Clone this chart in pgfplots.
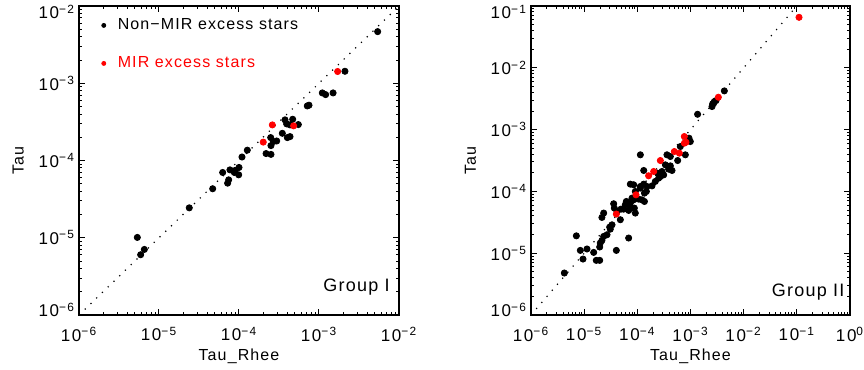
\documentclass[border=0pt]{standalone}
\usepackage{fontspec}
\setmainfont{Liberation Sans}[LetterSpace=7]
\newfontfamily\tickfont{Liberation Sans}[LetterSpace=10]
\usepackage{pgfplots}
\usepackage{pgfplotstable}
\pgfplotsset{compat=1.18}

\pgfplotstableread{
x y
5.41e-3 4.66e-3
2.11e-3 1.43e-3
1.10e-3 7.50e-4
1.21e-3 7.13e-4
1.50e-3 7.50e-4
7.14e-4 5.09e-4
7.50e-4 5.20e-4
3.76e-4 3.36e-4
4.69e-4 3.42e-4
5.52e-4 2.92e-4
3.94e-4 2.98e-4
4.34e-4 2.89e-4
4.34e-4 2.04e-4
4.02e-4 1.98e-4
3.48e-4 2.25e-4
2.49e-4 1.98e-4
2.96e-4 1.79e-4
2.69e-4 1.76e-4
2.51e-4 1.56e-4
2.18e-4 1.23e-4
2.51e-4 1.20e-4
1.27e-4 1.36e-4
1.09e-4 1.11e-4
6.25e-5 7.00e-5
7.71e-5 7.57e-5
8.75e-5 7.00e-5
9.91e-5 6.53e-5
1.00e-4 8.13e-5
8.91e-5 7.43e-5
7.43e-5 5.62e-5
7.21e-5 5.09e-5
4.69e-5 4.31e-5
2.39e-5 2.44e-5
5.36e-6 1.01e-5
6.56e-6 7.06e-6
5.90e-6 6.03e-6
}\leftblack

\pgfplotstableread{
x y
1.71e-3 1.42e-3
2.61e-4 2.89e-4
4.82e-4 2.81e-4
2.01e-4 1.73e-4
}\leftred

\pgfplotstableread{
x y
4.33e-3 4.23e-3
2.81e-3 2.84e-3
3.02e-3 2.95e-3
2.61e-3 2.61e-3
2.54e-3 2.36e-3
2.73e-3 2.67e-3
1.36e-3 1.77e-3
9.38e-4 7.26e-4
9.93e-4 6.41e-4
6.44e-4 5.32e-4
8.00e-4 3.91e-4
3.61e-4 3.91e-4
4.18e-4 3.67e-4
1.14e-4 3.91e-4
5.74e-4 3.16e-4
3.37e-4 2.69e-4
4.18e-4 2.59e-4
3.88e-4 2.29e-4
4.49e-4 2.18e-4
1.32e-4 2.18e-4
2.18e-4 1.45e-4
2.52e-4 1.64e-4
2.41e-4 1.97e-4
2.91e-4 2.10e-4
2.71e-4 1.74e-4
3.13e-4 1.85e-4
7.38e-5 1.31e-4
8.53e-5 1.28e-4
1.32e-4 1.31e-4
1.14e-4 1.20e-4
1.52e-4 1.20e-4
1.89e-4 1.23e-4
1.14e-4 1.13e-4
1.36e-4 9.38e-5
1.22e-4 7.31e-5
8.53e-5 7.31e-5
7.38e-5 6.46e-5
9.16e-5 9.98e-5
1.48e-4 9.98e-5
7.94e-5 7.78e-5
1.06e-4 7.50e-5
6.21e-5 6.87e-5
1.36e-4 6.87e-5
3.59e-5 6.31e-5
3.69e-5 5.37e-5
5.94e-5 6.07e-5
5.53e-5 5.16e-5
6.87e-5 4.92e-5
9.16e-5 4.46e-5
7.38e-5 5.70e-5
8.79e-5 5.37e-5
4.93e-5 5.16e-5
4.15e-5 4.74e-5
2.33e-5 4.46e-5
2.16e-5 3.79e-5
4.79e-5 3.48e-5
3.34e-5 2.88e-5
3.02e-5 2.64e-5
3.10e-5 2.45e-5
2.69e-5 1.99e-5
2.33e-5 1.87e-5
2.16e-5 1.61e-5
2.01e-5 1.46e-5
1.96e-5 1.26e-5
7.13e-6 1.91e-5
6.87e-5 1.76e-5
8.47e-6 1.11e-5
1.13e-5 1.17e-5
1.51e-5 1.03e-5
9.51e-6 8.04e-6
1.69e-5 7.66e-6
1.96e-5 7.66e-6
4.03e-5 1.11e-5
4.24e-6 4.78e-6
}\rightblack

\pgfplotstableread{
x y
1.10e-1 6.56e-2
3.34e-3 3.34e-3
7.66e-4 7.73e-4
8.22e-4 6.25e-4
7.66e-4 6.03e-4
4.97e-4 4.42e-4
6.17e-4 4.16e-4
2.71e-4 3.16e-4
2.03e-4 2.10e-4
1.63e-4 1.79e-4
9.44e-5 8.81e-5
4.03e-5 4.30e-5
}\rightred

\pgfplotsset{
  scale only axis, height=154.5pt,
  axis line style={line width=0.6pt},
  major tick length=3pt, minor tick length=1.6pt,
  tick style={line width=0.5pt, black},
  tick pos=both, tick align=inside,
  ticklabel style={font=\tickfont\fontsize{8.5}{10}\selectfont},
  xticklabel style={yshift=-2.5pt},
  yticklabel style={xshift=1.5pt},
  label style={font=\fontsize{8}{9.6}\selectfont},
  xlabel style={at={(axis description cs:0.5,-0.133)}, anchor=center},
  ylabel style={at={(axis description cs:-0.19,0.5)}, anchor=center},
}

\begin{document}
\begin{tikzpicture}
\path[use as bounding box] (0,0) rectangle (432pt,185pt);

\begin{loglogaxis}[at={(39.5pt,27.5pt)}, anchor=south west, width=160pt,
  xlabel={Tau\_Rhee}, ylabel={Tau},
  xmin=1e-6, xmax=1e-2, ymin=1e-6, ymax=1e-2,
  xtick={1e-6,1e-5,1e-4,1e-3,1e-2},
  xticklabels={10\textsuperscript{−6},10\textsuperscript{−5},10\textsuperscript{−4},10\textsuperscript{−3},10\textsuperscript{−2}},
  ytick={1e-6,1e-5,1e-4,1e-3,1e-2},
  yticklabels={\raisebox{2.5pt}[\height][\depth]{10\textsuperscript{−6}},10\textsuperscript{−5},10\textsuperscript{−4},10\textsuperscript{−3},\raisebox{-3pt}[\height][\depth]{10\textsuperscript{−2}}},
  minor xtick={2e-6,3e-6,4e-6,5e-6,6e-6,7e-6,8e-6,9e-6,2e-5,3e-5,4e-5,5e-5,6e-5,7e-5,8e-5,9e-5,2e-4,3e-4,4e-4,5e-4,6e-4,7e-4,8e-4,9e-4,2e-3,3e-3,4e-3,5e-3,6e-3,7e-3,8e-3,9e-3},
  minor ytick={2e-6,3e-6,4e-6,5e-6,6e-6,7e-6,8e-6,9e-6,2e-5,3e-5,4e-5,5e-5,6e-5,7e-5,8e-5,9e-5,2e-4,3e-4,4e-4,5e-4,6e-4,7e-4,8e-4,9e-4,2e-3,3e-3,4e-3,5e-3,6e-3,7e-3,8e-3,9e-3},
  legend style={at={(axis description cs:0,1)}, anchor=north west, xshift=11pt, yshift=-5pt,
    draw=none, fill=none, inner sep=0pt, row sep=10pt, column sep=0pt,
    font=\fontsize{8}{9.6}\selectfont, nodes={inner sep=1pt}},
  legend cell align=left,
  legend image code/.code={\fill (0pt,0pt) circle (1pt); \path[draw=none,fill=none] (-1pt,0pt) (6pt,0pt);},
]
\addplot[black, line width=0.6pt, dash pattern=on 0.6pt off 3.4pt, forget plot] coordinates {(1e-6,1e-6) (1e-2,1e-2)};
\addplot[only marks, mark=*, mark size=1.55pt, black] table[x=x,y=y] {\leftblack};
\addlegendentry{Non−MIR excess stars}
\addplot[only marks, mark=*, mark size=1.55pt, red] table[x=x,y=y] {\leftred};
\addlegendentry{\textcolor{red}{MIR excess stars}}
\node[anchor=east, font=\fontsize{9}{10.8}\selectfont, inner sep=0pt] at (axis description cs:0.972,0.09) {Group I};
\end{loglogaxis}

\begin{loglogaxis}[at={(265.5pt,27.5pt)}, anchor=south west, width=159.5pt,
  xlabel={Tau\_Rhee}, ylabel={Tau},
  xmin=1e-6, xmax=1, ymin=1e-6, ymax=1e-1,
  xtick={1e-6,1e-5,1e-4,1e-3,1e-2,1e-1,1},
  xticklabels={10\textsuperscript{−6},10\textsuperscript{−5},10\textsuperscript{−4},10\textsuperscript{−3},10\textsuperscript{−2},10\textsuperscript{−1},10\textsuperscript{0}},
  ytick={1e-6,1e-5,1e-4,1e-3,1e-2,1e-1},
  yticklabels={\raisebox{2.5pt}[\height][\depth]{10\textsuperscript{−6}},10\textsuperscript{−5},10\textsuperscript{−4},10\textsuperscript{−3},10\textsuperscript{−2},\raisebox{-3pt}[\height][\depth]{10\textsuperscript{−1}}},
  minor xtick={2e-6,3e-6,4e-6,5e-6,6e-6,7e-6,8e-6,9e-6,2e-5,3e-5,4e-5,5e-5,6e-5,7e-5,8e-5,9e-5,2e-4,3e-4,4e-4,5e-4,6e-4,7e-4,8e-4,9e-4,2e-3,3e-3,4e-3,5e-3,6e-3,7e-3,8e-3,9e-3,2e-2,3e-2,4e-2,5e-2,6e-2,7e-2,8e-2,9e-2,2e-1,3e-1,4e-1,5e-1,6e-1,7e-1,8e-1,9e-1},
  minor ytick={2e-6,3e-6,4e-6,5e-6,6e-6,7e-6,8e-6,9e-6,2e-5,3e-5,4e-5,5e-5,6e-5,7e-5,8e-5,9e-5,2e-4,3e-4,4e-4,5e-4,6e-4,7e-4,8e-4,9e-4,2e-3,3e-3,4e-3,5e-3,6e-3,7e-3,8e-3,9e-3,2e-2,3e-2,4e-2,5e-2,6e-2,7e-2,8e-2,9e-2},
]
\addplot[black, line width=0.6pt, dash pattern=on 0.6pt off 3.4pt, forget plot] coordinates {(1e-6,1e-6) (1,1)};
\addplot[only marks, mark=*, mark size=1.55pt, black] table[x=x,y=y] {\rightblack};
\addplot[only marks, mark=*, mark size=1.55pt, red] table[x=x,y=y] {\rightred};
\node[anchor=east, font=\fontsize{9}{10.8}\selectfont, inner sep=0pt] at (axis description cs:0.984,0.074) {Group II};
\end{loglogaxis}
\end{tikzpicture}
\end{document}
